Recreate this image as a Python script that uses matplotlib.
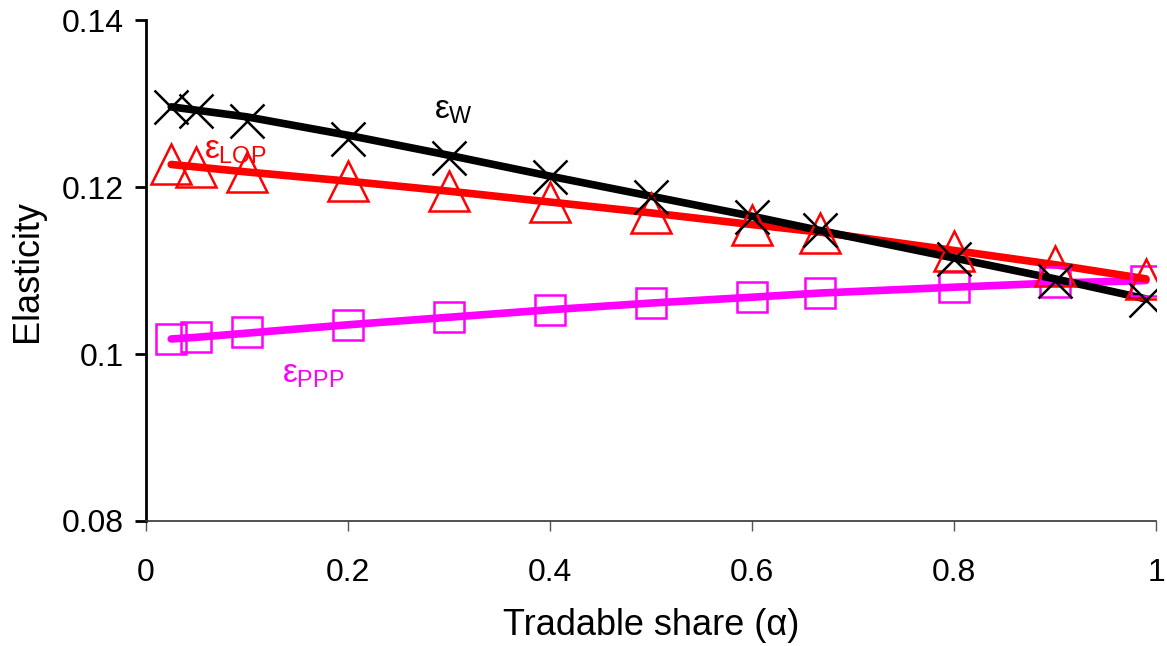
import matplotlib.pyplot as plt

plt.rcParams['font.family'] = ['Liberation Sans', 'DejaVu Sans']
plt.rcParams['mathtext.fontset'] = 'custom'
plt.rcParams['mathtext.rm'] = 'Liberation Sans'
plt.rcParams['mathtext.it'] = 'Liberation Sans'
plt.rcParams['mathtext.bf'] = 'Liberation Sans:bold'

# tradable share
alpha = [0.025, 0.05, 0.1, 0.2, 0.3, 0.4, 0.5, 0.6, 0.667, 0.8, 0.9, 0.99]

# fitted lines
w_line = [0.1296, 0.1292, 0.1284, 0.1262, 0.1238, 0.1213, 0.1189, 0.1165, 0.1148, 0.1115, 0.1090, 0.1066]
lop_line = [0.1227, 0.1224, 0.1218, 0.1207, 0.1195, 0.1182, 0.1169, 0.1155, 0.1146, 0.1124, 0.1107, 0.1090]
ppp_line = [0.1018, 0.1020, 0.1025, 0.1035, 0.1044, 0.1053, 0.1061, 0.1068, 0.1073, 0.1080, 0.1085, 0.1088]

# markers
w_pts = [0.1296, 0.1291, 0.1279, 0.1257, 0.1235, 0.1212, 0.1188, 0.1164, 0.1148, 0.1114, 0.1087, 0.1065]
lop_pts = [0.1227, 0.1224, 0.1218, 0.1207, 0.1195, 0.1182, 0.1169, 0.1154, 0.1145, 0.1123, 0.1105, 0.1090]
ppp_pts = [0.1018, 0.1020, 0.1026, 0.1035, 0.1044, 0.1053, 0.1061, 0.1068, 0.1073, 0.1080, 0.1086, 0.1088]

fig = plt.figure(figsize=(11.67, 6.46), dpi=100)
ax = fig.add_axes([0.1251, 0.1935, 0.8655, 0.7755])

ax.plot(alpha, ppp_line, color='#ff00ff', lw=5.5, solid_capstyle='round', zorder=2)
ax.plot(alpha, lop_line, color='#ff0000', lw=5.5, solid_capstyle='round', zorder=2)
ax.plot(alpha, w_line, color='black', lw=5.5, solid_capstyle='round', zorder=2)

ax.plot(alpha, ppp_pts, ls='none', marker='s', ms=21.5, mfc='none', mec='#ff00ff', mew=1.8, zorder=3)
ax.plot(alpha, lop_pts, ls='none', marker='^', ms=29, mfc='none', mec='#ff0000', mew=1.8, zorder=3)
ax.plot(alpha, w_pts, ls='none', marker='x', ms=24, mec='black', mew=1.8, zorder=4)

# labels
ax.text(0.285, 0.1282, r'$ε_{W}$', color='black', fontsize=24)
ax.text(0.057, 0.1234, r'$ε_{LOP}$', color='#ff0000', fontsize=24)
ax.text(0.135, 0.0966, r'$ε_{PPP}$', color='#ff00ff', fontsize=24)

ax.set_xlim(0, 1)
ax.set_ylim(0.08, 0.14)
ax.set_xticks([0, 0.2, 0.4, 0.6, 0.8, 1])
ax.set_xticklabels(['0', '0.2', '0.4', '0.6', '0.8', '1'])
ax.set_yticks([0.08, 0.1, 0.12, 0.14])
ax.set_yticklabels(['0.08', '0.1', '0.12', '0.14'])

ax.spines['top'].set_visible(False)
ax.spines['right'].set_visible(False)
ax.spines['left'].set_linewidth(2)
ax.spines['bottom'].set_linewidth(1.2)
ax.spines['bottom'].set_color('#333333')
ax.tick_params(axis='y', direction='out', length=8, width=2, labelsize=23, pad=8)
ax.tick_params(axis='x', direction='out', length=7, width=1, color='#555555', labelsize=23, pad=20)

ax.set_xlabel('Tradable share (α)', fontsize=26, labelpad=14)
ax.set_ylabel('Elasticity', fontsize=26, labelpad=12)

fig.savefig('out.png', dpi=100)
